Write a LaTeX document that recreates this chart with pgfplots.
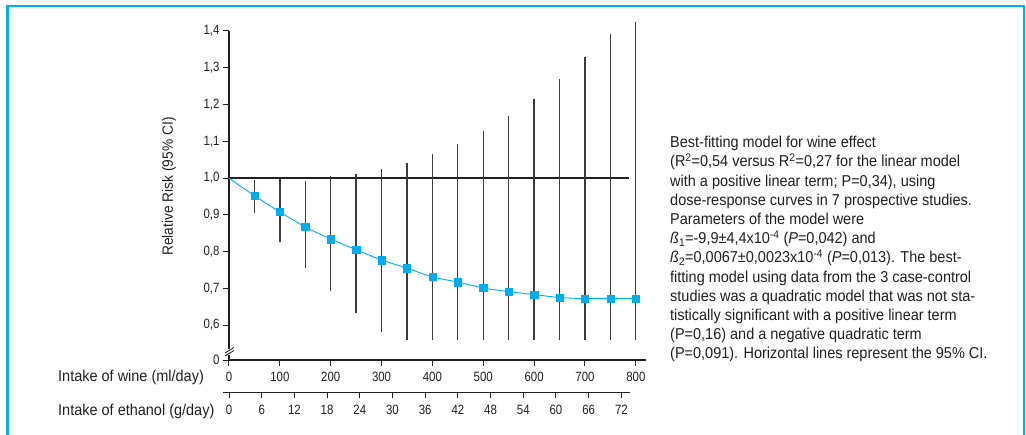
\documentclass[border=0pt]{standalone}
\usepackage{pgfplots}
\pgfplotsset{compat=1.18}
\usepackage{pgfplotstable}
\usepackage{fontspec}
\setmainfont{Liberation Sans}[FakeStretch=0.92]
\newfontfamily\tickfont{Liberation Sans}[FakeStretch=0.85]
\definecolor{frameblue}{RGB}{0,176,240}
\definecolor{curveblue}{RGB}{0,174,239}
\definecolor{ink}{RGB}{35,31,32}
\definecolor{cigray}{RGB}{60,60,60}

\pgfplotstableread{
x y lo hi
50 0.952 0.904 0.995
100 0.908 0.826 0.997
150 0.867 0.754 0.992
200 0.834 0.693 1.005
250 0.805 0.633 1.011
300 0.777 0.581 1.024
350 0.755 0.559 1.042
400 0.731 0.559 1.065
450 0.717 0.559 1.093
500 0.701 0.559 1.128
550 0.691 0.559 1.168
600 0.683 0.559 1.216
650 0.675 0.559 1.269
700 0.672 0.559 1.329
750 0.672 0.559 1.391
800 0.672 0.559 1.424
}\wine

\begin{document}
\begin{tikzpicture}[x=1bp,y=1bp]
\path[use as bounding box] (-229bp,-75bp) rectangle (797bp,360bp);
\begin{axis}[
  at={(0bp,0bp)}, anchor=south west,
  scale only axis, width=417bp, height=329bp,
  xmin=0, xmax=820, ymin=0.505, ymax=1.4,
  axis x line*=bottom, axis y line*=left,
  axis line style={-, line width=1.1bp, ink},
  xtick={0,100,...,800},
  ytick={0.505,0.6,0.7,0.8,0.9,1.0,1.1,1.2,1.3,1.4},
  yticklabels={0,{0,6},{0,7},{0,8},{0,9},{1,0},{1,1},{1,2},{1,3},{1,4}},
  tick align=outside, major tick length=6bp,
  tick style={ink, line width=1bp},
  minor tick num=0,
  /pgf/number format/assume math mode=true,
  xticklabel style={font=\fontsize{13.5}{15}\selectfont\tickfont, text=ink, yshift=-3bp},
  yticklabel style={font=\fontsize{13.5}{15}\selectfont\tickfont, text=ink},
  clip=false,
]
\addplot[ink, line width=1.1bp] coordinates {(0,1) (787,1)};
\addplot[only marks, mark=none, forget plot,
  error bars/.cd, y dir=both, y explicit, error mark=none,
  error bar style={draw=cigray, line width=1.3bp}]
  table[x=x, y=y, y error plus expr=\thisrow{hi}-\thisrow{y},
        y error minus expr=\thisrow{y}-\thisrow{lo}] {\wine};
\addplot[curveblue, line width=0.9bp, smooth] coordinates {
 (0,1.0) (50,0.952) (100,0.908) (150,0.867) (200,0.834) (250,0.805)
 (300,0.777) (350,0.755) (400,0.731) (450,0.717) (500,0.701) (550,0.691)
 (600,0.683) (650,0.675) (700,0.672) (750,0.672) (800,0.672) (808,0.672)};
\addplot[only marks, mark=square*, mark size=3.7bp, curveblue] table[x=x,y=y] {\wine};
\end{axis}
\begin{axis}[
  at={(-6.3bp,-32.4bp)}, anchor=south west,
  scale only axis, width=407.3bp, height=10bp,
  xmin=-1.156, xmax=73.58, ymin=0, ymax=1,
  axis x line*=bottom, hide y axis,
  axis line style={-, line width=1.1bp, ink},
  xtick={0,6,...,72},
  tick align=outside, major tick length=6bp,
  tick style={ink, line width=1bp},
  /pgf/number format/assume math mode=true,
  xticklabel style={font=\fontsize{13.5}{15}\selectfont\tickfont, text=ink, yshift=-3bp},
  clip=false,
]
\addplot[draw=none] coordinates {(0,0.5)};
\end{axis}
% axis break
\fill[white] (-2,5.5) rectangle (2,11);
\draw[ink, line width=0.9bp] (-4,4) -- (5,9.5);
\draw[ink, line width=0.9bp] (-4,7) -- (5,12.5);
% labels
\node[rotate=90, font=\fontsize{15}{18}\selectfont, text=ink] at (-60,173.5) {Relative Risk (95\% CI)};
\node[anchor=base west, inner sep=0, font=\fontsize{15.8}{19}\selectfont, text=ink] at (-171,-21.5) {Intake of wine (ml/day)};
\node[anchor=base west, inner sep=0, font=\fontsize{15.8}{19}\selectfont, text=ink] at (-171,-55.7) {Intake of ethanol (g/day)};
% annotation
\begin{scope}[every node/.style={anchor=base west, inner sep=0, font=\fontsize{15.8}{19}\selectfont, text=ink}]
\node at (441,212.3) {Best-fitting model for wine effect};
\node at (441,193.1) {(R\textsuperscript{2}=0,54 versus R\textsuperscript{2}=0,27 for the linear model};
\node at (441,173.9) {with a positive linear term; P=0,34), using};
\node at (441,154.7) {dose-response curves in 7 prospective studies.};
\node at (441,135.5) {Parameters of the model were};
\node at (441,116.3) {\textit{ß}\textsubscript{1}=-9,9±4,4x10\textsuperscript{-4} (\textit{P}=0,042) and};
\node at (441,97.1) {\textit{ß}\textsubscript{2}=0,0067±0,0023x10\textsuperscript{-4} (\textit{P}=0,013). The best-};
\node at (441,77.9) {fitting model using data from the 3 case-control};
\node at (441,58.7) {studies was a quadratic model that was not sta-};
\node at (441,39.5) {tistically significant with a positive linear term};
\node at (441,20.3) {(P=0,16) and a negative quadratic term};
\node at (441,1.1) {(P=0,091). Horizontal lines represent the 95\% CI.};
\end{scope}
% frame
\draw[frameblue, line width=2.6bp] (-221.5,-90) -- (-221.5,353.8) -- (795,353.8) -- (795,-90);
\end{tikzpicture}
\end{document}
